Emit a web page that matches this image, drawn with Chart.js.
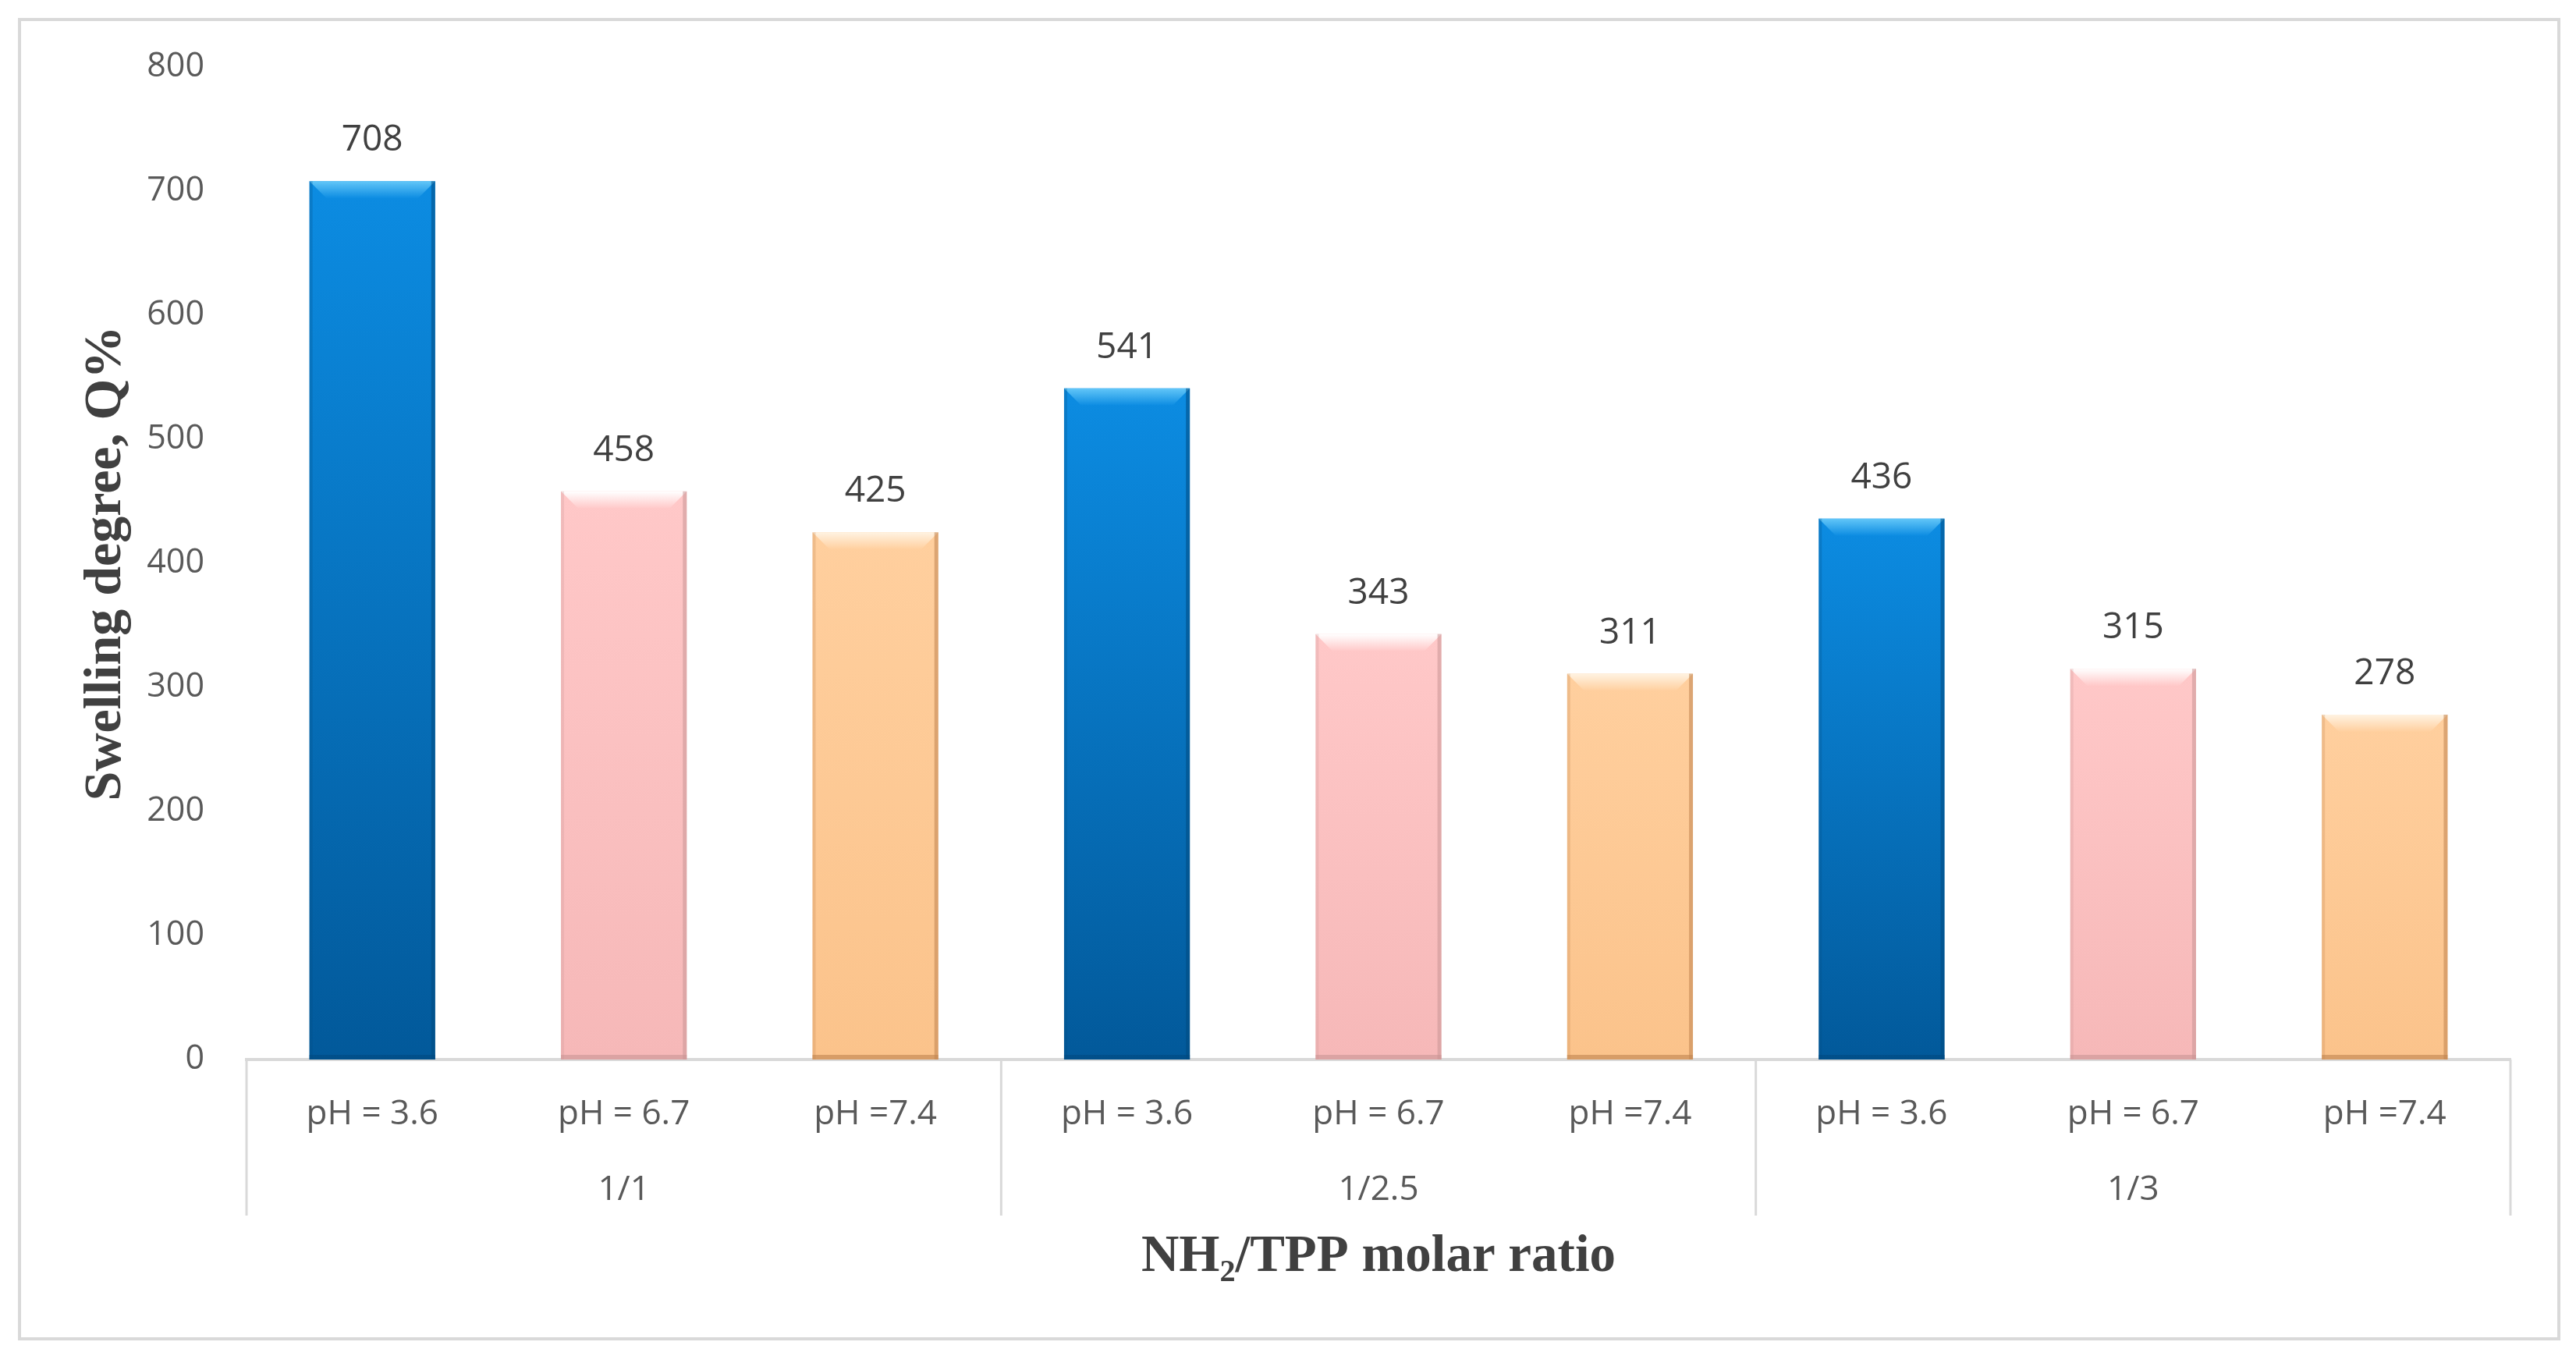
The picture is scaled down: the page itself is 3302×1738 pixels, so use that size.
<!DOCTYPE html>
<html>
<head>
<meta charset="utf-8">
<script src="https://cdn.jsdelivr.net/npm/chart.js@4/dist/chart.umd.min.js"></script>
<style>
    html, body {margin: 0; padding: 0; background: #fff;}
    #wrap {width: 3302px; height: 1738px;}
</style>
</head>
<body>
<div id="wrap"><canvas id="swelling"></canvas></div>
<script>
    var groups = ['1/1', '1/2.5', '1/3'];
    var phLabels = ['pH = 3.6', 'pH = 6.7', 'pH =7.4'];
    var swelling = [708, 458, 425, 541, 343, 311, 436, 315, 278];
    var yTicks = [0, 100, 200, 300, 400, 500, 600, 700, 800];

    var sansFont = "'Open Sans', 'Noto Sans', sans-serif";
    var serifFont = "'Liberation Serif', 'DejaVu Serif', serif";

    // colours per pH: [top, bottom, bevel, edge]
    var phColors = [
        ['#0c8ce2', '#02599a', '#62c6f8', '#024a80'],
        ['#ffc8c8', '#f6b8b8', '#ffffff', '#c99595'],
        ['#ffcf9e', '#fbc38b', '#fff3e2', '#c08450']
    ];

    //labels: pH on first line, ratio under the middle bar of each group
    var labels = [];
    groups.forEach(function (g) {
        phLabels.forEach(function (ph, i) {
            labels.push([ph, i === 1 ? g : '']);
        });
    });

    function barFill(context) {
        var c = phColors[context.dataIndex % 3];
        var chart = context.chart;
        if (!chart.chartArea || !chart.scales.y) {
            return c[0];
        }
        var y = chart.scales.y;
        var top = y.getPixelForValue(swelling[context.dataIndex]);
        var bottom = y.getPixelForValue(0);
        var grad = chart.ctx.createLinearGradient(0, top, 0, bottom);
        grad.addColorStop(0, c[0]);
        grad.addColorStop(1, c[1]);
        return grad;
    }

    //frame, group separators, bevel and value labels
    var decorations = {
        id: 'decorations',
        beforeDraw: function (chart) {
            var ctx = chart.ctx;
            ctx.save();
            ctx.fillStyle = '#fff';
            ctx.fillRect(0, 0, chart.width, chart.height);
            ctx.strokeStyle = '#d9d9d9';
            ctx.lineWidth = 4;
            ctx.strokeRect(25, 25, 3255, 1691);
            ctx.restore();
        },
        afterDraw: function (chart) {
            var ctx = chart.ctx;
            var x = chart.scales.x;
            var base = chart.scales.y.getPixelForValue(0);
            var half = (x.getPixelForValue(1) - x.getPixelForValue(0)) / 2;

            ctx.save();
            ctx.strokeStyle = '#d9d9d9';
            ctx.lineWidth = 3;
            for (var g = 0; g <= groups.length; g++) {
                var px = g < groups.length ? x.getPixelForValue(g * 3) - half : x.getPixelForValue(labels.length - 1) + half;
                ctx.beginPath();
                ctx.moveTo(px, base);
                ctx.lineTo(px, base + 200);
                ctx.stroke();
            }
            ctx.restore();
        },
        afterDatasetsDraw: function (chart) {
            var ctx = chart.ctx;
            var meta = chart.getDatasetMeta(0);

            ctx.save();
            meta.data.forEach(function (bar, i) {
                var c = phColors[i % 3];
                var l = bar.x - bar.width / 2;
                var r = bar.x + bar.width / 2;
                var t = bar.y;
                var b = bar.base;
                var bev = 22;

                // top bevel, fading downwards
                var bg = ctx.createLinearGradient(0, t, 0, t + bev);
                bg.addColorStop(0, c[2]);
                bg.addColorStop(1, c[0]);
                ctx.fillStyle = bg;
                ctx.beginPath();
                ctx.moveTo(l, t);
                ctx.lineTo(r, t);
                ctx.lineTo(r - bev, t + bev);
                ctx.lineTo(l + bev, t + bev);
                ctx.closePath();
                ctx.fill();

                // side and bottom edges
                ctx.fillStyle = c[3];
                ctx.globalAlpha = 0.55;
                ctx.fillRect(r - 5, t, 5, b - t);
                ctx.globalAlpha = 0.25;
                ctx.fillRect(l, t, 4, b - t);
                ctx.globalAlpha = 0.6;
                ctx.fillRect(l, b - 6, r - l, 6);
                ctx.globalAlpha = 1;

                // value label
                ctx.fillStyle = '#404040';
                ctx.font = '46px ' + sansFont;
                ctx.textAlign = 'center';
                ctx.textBaseline = 'middle';
                ctx.fillText(String(swelling[i]), bar.x, t - 52);
            });
            ctx.restore();
        }
    };

    new Chart(document.getElementById('swelling'), {
        type: 'bar',
        data: {
            labels: labels,
            datasets: [{
                data: swelling,
                backgroundColor: barFill,
                borderWidth: 0,
                barPercentage: 0.5,
                categoryPercentage: 1.0
            }]
        },
        options: {
            responsive: true,
            maintainAspectRatio: false,
            animation: false,
            devicePixelRatio: 1,
            layout: {
                padding: {left: 0, top: 86, right: 84, bottom: 0}
            },
            plugins: {
                legend: {display: false},
                tooltip: {enabled: false}
            },
            scales: {
                x: {
                    grid: {display: false, drawTicks: false},
                    border: {display: true, color: '#d9d9d9', width: 4},
                    ticks: {
                        color: '#595959',
                        font: {family: sansFont, size: 44, lineHeight: 2.2},
                        padding: 22,
                        maxRotation: 0,
                        autoSkip: false
                    },
                    title: {
                        display: true,
                        text: 'NH\u2082/TPP molar ratio',
                        color: '#404040',
                        font: {family: serifFont, size: 67, weight: 'bold'},
                        padding: {top: 0, bottom: 86}
                    },
                    afterFit: function (scale) {
                        scale.height = 380;
                    }
                },
                y: {
                    min: 0,
                    max: 800,
                    grid: {display: false},
                    border: {display: false},
                    afterBuildTicks: function (scale) {
                        scale.ticks = yTicks.map(function (v) {
                            return {value: v};
                        });
                    },
                    ticks: {
                        color: '#595959',
                        font: {family: sansFont, size: 43},
                        padding: 46
                    },
                    title: {
                        display: true,
                        text: 'Swelling degree, Q%',
                        color: '#404040',
                        font: {family: serifFont, size: 68, weight: 'bold'},
                        padding: {top: 96, bottom: 0}
                    },
                    afterFit: function (scale) {
                        scale.width = 316;
                    }
                }
            }
        },
        plugins: [decorations]
    });
</script>
</body>
</html>
